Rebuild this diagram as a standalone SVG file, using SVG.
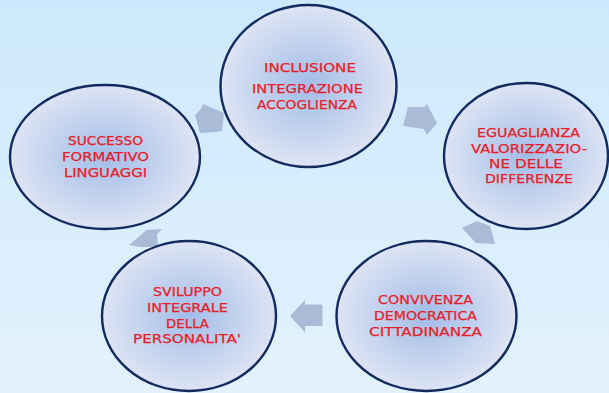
<svg xmlns="http://www.w3.org/2000/svg" width="609" height="393" viewBox="0 0 609 393">
<defs>
<linearGradient id="bg" x1="0" y1="0" x2="0" y2="1">
<stop offset="0" stop-color="#cde8fc"/>
<stop offset="1" stop-color="#e3f2fd"/>
</linearGradient>
<radialGradient id="nodeFill" cx="0.5" cy="0.5" r="0.5">
<stop offset="0" stop-color="#a2bce7"/>
<stop offset="1" stop-color="#dde4f4"/>
</radialGradient>
<style>
.node ellipse{fill:url(#nodeFill);stroke:#112b5f;stroke-width:2.4}
.node text{font-family:"DejaVu Sans","Liberation Sans",sans-serif;font-size:12px;fill:#e61e28;stroke:#e61e28;stroke-width:0.25}
.arrow{fill:#a9bbd6}
</style>
</defs>
<rect width="609" height="393" fill="url(#bg)"/>
<g id="connectors">
<polygon class="arrow" points="195,115 201,109 203,104 224,113 222,131 216,132 200,133"/>
<polygon class="arrow" points="408,107 424,107 427,104 437,123 427,135 424,129 403,126"/>
<polygon class="arrow" points="462,228 477,221 490,226 493,236 495,244 476,243"/>
<polygon class="arrow" points="290,316 305,300 305,304.5 322.5,304.5 322.5,326 305,326 305,332.5"/>
<polygon class="arrow" points="129,245 143,233 146,230 162,229 157,234 158,247 140,247"/>
</g>
<g id="node-inclusione" class="node">
<ellipse cx="308.5" cy="86" rx="88" ry="81"/>
<text x="264" y="71.5" textLength="92" lengthAdjust="spacingAndGlyphs">INCLUSIONE</text>
<text x="252" y="93" textLength="111" lengthAdjust="spacingAndGlyphs">INTEGRAZIONE</text>
<text x="257" y="108.5" textLength="100" lengthAdjust="spacingAndGlyphs">ACCOGLIENZA</text>
</g>
<g id="node-eguaglianza" class="node">
<ellipse cx="526" cy="156" rx="82" ry="73"/>
<text x="477" y="136.5" textLength="103" lengthAdjust="spacingAndGlyphs">EGUAGLIANZA</text>
<text x="471" y="152.5" textLength="116" lengthAdjust="spacingAndGlyphs">VALORIZZAZIO-</text>
<text x="489" y="167.5" textLength="74" lengthAdjust="spacingAndGlyphs">NE DELLE</text>
<text x="485" y="183" textLength="88" lengthAdjust="spacingAndGlyphs">DIFFERENZE</text>
</g>
<g id="node-convivenza" class="node">
<ellipse cx="426.5" cy="316" rx="90" ry="75"/>
<text x="378" y="304" textLength="95" lengthAdjust="spacingAndGlyphs">CONVIVENZA</text>
<text x="374" y="320" textLength="103" lengthAdjust="spacingAndGlyphs">DEMOCRATICA</text>
<text x="369" y="336" textLength="113" lengthAdjust="spacingAndGlyphs">CITTADINANZA</text>
</g>
<g id="node-sviluppo" class="node">
<ellipse cx="189" cy="316" rx="87" ry="75"/>
<text x="153" y="296" textLength="69" lengthAdjust="spacingAndGlyphs">SVILUPPO</text>
<text x="147" y="312" textLength="81" lengthAdjust="spacingAndGlyphs">INTEGRALE</text>
<text x="166" y="328" textLength="43" lengthAdjust="spacingAndGlyphs">DELLA</text>
<text x="133" y="343" textLength="108" lengthAdjust="spacingAndGlyphs">PERSONALITA'</text>
</g>
<g id="node-successo" class="node">
<ellipse cx="105" cy="157" rx="95" ry="72"/>
<text x="68" y="145" textLength="75" lengthAdjust="spacingAndGlyphs">SUCCESSO</text>
<text x="62" y="161" textLength="87" lengthAdjust="spacingAndGlyphs">FORMATIVO</text>
<text x="64" y="176.5" textLength="83" lengthAdjust="spacingAndGlyphs">LINGUAGGI</text>
</g>
</svg>
